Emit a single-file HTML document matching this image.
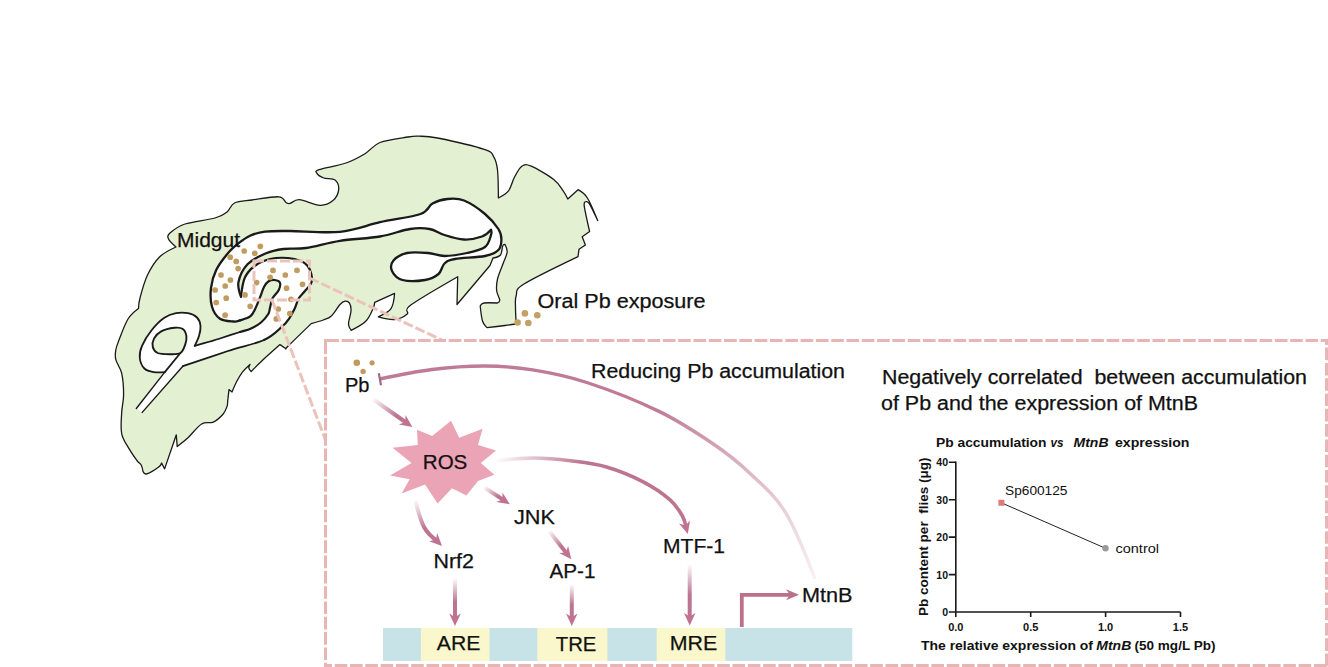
<!DOCTYPE html>
<html><head><meta charset="utf-8">
<style>
html,body{margin:0;padding:0;background:#fff;width:1328px;height:667px;overflow:hidden}
svg{display:block}
text{font-family:"Liberation Sans",sans-serif;fill:#111;white-space:pre;stroke:#111;stroke-width:0.25px}
.b{font-weight:bold} #chart text{stroke:none}
</style></head><body>
<svg width="1328" height="667" viewBox="0 0 1328 667">
<defs>
<linearGradient id="ga1" gradientUnits="userSpaceOnUse" x1="372" y1="398.5" x2="412.4" y2="427"><stop offset="0" stop-color="#bc7490" stop-opacity="0.0"/><stop offset="0.6" stop-color="#bc7490" stop-opacity="1"/></linearGradient><linearGradient id="ga2" gradientUnits="userSpaceOnUse" x1="483.6" y1="487" x2="509.8" y2="504.2"><stop offset="0" stop-color="#bc7490" stop-opacity="0.0"/><stop offset="0.55" stop-color="#bc7490" stop-opacity="1"/></linearGradient><linearGradient id="ga3" gradientUnits="userSpaceOnUse" x1="415" y1="499.6" x2="442" y2="546"><stop offset="0" stop-color="#bc7490" stop-opacity="0.0"/><stop offset="0.55" stop-color="#bc7490" stop-opacity="1"/></linearGradient><linearGradient id="ga4" gradientUnits="userSpaceOnUse" x1="548.7" y1="530.4" x2="571.3" y2="559.3"><stop offset="0" stop-color="#bc7490" stop-opacity="0.0"/><stop offset="0.55" stop-color="#bc7490" stop-opacity="1"/></linearGradient><linearGradient id="ga5" gradientUnits="userSpaceOnUse" x1="455" y1="578" x2="455" y2="626"><stop offset="0" stop-color="#bc7490" stop-opacity="0.0"/><stop offset="0.5" stop-color="#bc7490" stop-opacity="1"/></linearGradient><linearGradient id="ga6" gradientUnits="userSpaceOnUse" x1="571.8" y1="583.8" x2="571.8" y2="626"><stop offset="0" stop-color="#bc7490" stop-opacity="0.0"/><stop offset="0.5" stop-color="#bc7490" stop-opacity="1"/></linearGradient><linearGradient id="ga7" gradientUnits="userSpaceOnUse" x1="689.7" y1="564" x2="689.7" y2="625.4"><stop offset="0" stop-color="#bc7490" stop-opacity="0.0"/><stop offset="0.5" stop-color="#bc7490" stop-opacity="1"/></linearGradient><linearGradient id="ga8" gradientUnits="userSpaceOnUse" x1="494.5" y1="460.8" x2="687.8" y2="534"><stop offset="0" stop-color="#bc7490" stop-opacity="0.0"/><stop offset="0.4" stop-color="#bc7490" stop-opacity="1"/></linearGradient><linearGradient id="ginh" gradientUnits="userSpaceOnUse" x1="815" y1="580" x2="600" y2="385"><stop offset="0" stop-color="#bc7490" stop-opacity="0.1"/><stop offset="0.5" stop-color="#bc7490" stop-opacity="0.6"/><stop offset="0.8" stop-color="#bc7490" stop-opacity="0.95"/></linearGradient>
</defs>
<rect width="1328" height="667" fill="#fff"/>
<g id="fly">
<path d="M168.5,239 C167.5,236.7 167.2,235.5 170,233 C172.8,230.5 177.5,226.5 185,224 C192.5,221.5 208,220 215,218 C222,216 223.8,214.5 227,212 C230.2,209.5 230.3,205 234.5,203 C238.7,201 244.6,201 252,200 C259.4,199 273,196.4 278.7,196.8 C284.4,197.2 284.1,201.4 286,202.5 C287.9,203.6 287.8,203.9 290,203.4 C292.2,202.9 294.4,199.4 299.4,199.7 C304.4,200 314.4,205.2 320,205.3 C325.6,205.5 329.9,203.2 333,200.6 C336.1,197.9 338.4,192.8 338.7,189.4 C339,186 337.5,181.9 335,180 C332.5,178.1 326.7,179.1 323.7,178 C320.7,176.9 317.8,174.8 317,173.4 C316.2,172 314.2,171.4 319,169.7 C323.8,168 338.3,165.7 346,163 C353.7,160.3 359.3,157.1 365,153.7 C370.7,150.3 372.8,145.3 380,142.5 C387.2,139.7 401.6,138.1 408,137 C414.4,135.9 413.8,136 418.7,136.2 C423.6,136.4 426.6,135.8 437.5,138 C448.4,140.2 474.9,146.2 484.3,149.4 C493.7,152.6 491.5,153.5 493.7,156.9 C495.9,160.3 496.7,163.2 497.5,170 C498.3,176.8 498.4,198 498.4,198 C498.4,198 506.1,194 508.7,190.6 C511.3,187.2 512.1,181.6 514.3,177.5 C516.5,173.4 519,168.1 521.8,166.2 C524.6,164.3 525.9,164 531.2,166.2 C536.5,168.4 548.4,175.3 553.7,179.4 C559,183.5 560.6,187.3 563,190.6 C565.4,193.9 567.8,199 567.8,199 C567.8,199 578,189.7 578,189.7 C578,189.7 584.1,192.8 587.4,198 C590.7,203.2 597.7,220.6 597.7,220.6 C597.7,220.6 591.3,206.8 589.3,203.7 C587.3,200.6 585.6,201.8 585.6,201.8 C585.6,201.8 583.6,201.4 584.3,206.3 C585,211.2 589.6,231.5 589.6,231.5 C589.6,231.5 582.2,236.7 582.2,236.7 C582.2,236.7 585.4,245 585.4,245 C585.4,245 579,249.3 579,249.3 C579,249.3 578,256.6 578,256.6 C578,256.6 534.3,277.5 524,284 C513.7,290.5 517.6,291.6 516.2,295.5 C514.8,299.4 515.5,302.8 515.5,307.5 C515.5,312.2 516.2,324 516.2,324 C516.2,324 509.9,324.9 505,325.5 C500.1,326.1 487,327.7 487,327.7 C487,327.7 483.6,324.6 482.5,321 C481.4,317.4 480.2,306 480.2,306 C480.2,306 481.1,303.5 484,303 C486.9,302.5 497.5,303 497.5,303 C497.5,303 499.8,302 499.7,300 C499.6,298 497.1,294.5 496.7,291 C496.3,287.5 496.4,283.8 497.5,279 C498.6,274.2 501.9,267 503.5,262.5 C505.1,258 506.9,255 507.2,252 C507.4,249 505,244.5 505,244.5 C505,244.5 503.4,244.2 502.7,246 C501.9,247.8 502.1,253 500.5,255 C498.9,257 493,258 493,258 C493,258 490,265.5 490,265.5 C490,265.5 457,304.5 457,304.5 C457,304.5 457.7,276.7 457.7,276.7 C457.7,276.7 419.2,298.8 410.8,305 C402.4,311.2 409.9,311.6 407.2,314 C404.5,316.4 399.4,319 394.6,319.5 C389.8,320 378.3,316.8 378.3,316.8 C378.3,316.8 388.3,312.6 391,308.7 C393.7,304.8 394.6,293.3 394.6,293.3 C394.6,293.3 374.7,302.4 374.7,302.4 C374.7,302.4 374.5,305.5 373,308.7 C371.5,311.9 369.3,317.7 365.7,321.3 C362.1,324.9 351.2,330.4 351.2,330.4 C351.2,330.4 348.5,327.2 348.5,324 C348.5,320.8 350.8,314.5 351,311 C351.2,307.5 350.5,304.8 349.5,303.2 C348.5,301.6 346.6,301 345,301.2 C343.4,301.4 342.3,302 340,304.5 C337.7,307 334.1,313.4 331.3,316 C328.5,318.6 326.6,318.7 323.2,320 C319.8,321.3 311.2,323.6 311.2,323.6 C311.2,323.6 292.6,341.6 288.4,345.8 C284.2,350 286,348.8 286,348.8 C286,348.8 280,344.6 280,344.6 C280,344.6 266.8,356.3 262,360.8 C257.2,365.3 251.2,371.6 251.2,371.6 C251.2,371.6 249,369.2 248.8,368 C248.6,366.8 250,364.4 250,364.4 C250,364.4 245,368.8 242.8,371.6 C240.6,374.4 238.6,377.8 236.8,381.2 C235,384.6 232,392 232,392 C232,392 229,389.6 229,389.6 C229,389.6 228.1,397.2 227.8,400 C227.5,402.8 227.8,404.1 227,406.5 C226.2,408.9 225.3,411.7 223,414.3 C220.7,416.9 216.9,420.5 213.3,422.1 C209.7,423.7 205.8,421.4 201.6,424 C197.4,426.6 192.1,433.9 188,437.7 C183.9,441.4 177.2,446.5 177.2,446.5 C177.2,446.5 176.3,434.8 176.3,434.8 C176.3,434.8 164.6,468.9 164.6,468.9 C164.6,468.9 161.6,463 161.6,463 C161.6,463 161.1,465.2 158.7,467 C156.3,468.8 149.6,473 147,473.8 C144.4,474.6 143.1,471.8 143.1,471.8 C143.1,471.8 142.2,466.8 141.2,465 C140.2,463.2 139.2,463.6 137.3,461 C135.4,458.4 132.1,453.9 129.5,449.4 C126.9,444.9 123,440 121.7,433.8 C120.4,427.6 121.4,418.9 121.7,412.4 C122,405.9 123.6,401.3 123.6,394.8 C123.6,388.3 123,379.2 121.7,373.4 C120.4,367.5 116.8,363.6 115.8,359.7 C114.8,355.8 115.3,353.3 115.8,350 C116.3,346.7 117,345.2 119,340 C121,334.8 124.8,324.2 128,319 C131.2,313.8 138.5,308.5 138.5,308.5 C138.5,308.5 138.5,303.6 140,298 C141.5,292.4 144.2,281.8 147.5,275 C150.8,268.2 154.8,261.7 159.5,257 C164.2,252.3 176,247 176,247 C176,247 169.5,241.3 168.5,239 Z" fill="#e4f0d2" stroke="#1a1a1a" stroke-width="1.3" stroke-linejoin="round"/>
<path d="M142.2,412.4 C142.2,412.4 182.8,366.2 182.8,366.2 C182.8,366.2 214.5,355.4 228,351 C241.5,346.6 255,344.1 264,340 C273,335.9 277.8,330.3 282,326.7 C286.2,323.1 287.2,321.3 289.3,318.3 C291.4,315.3 293,312.1 294.6,308.8 C296.2,305.5 297.1,301.3 298.8,298.3 C300.5,295.3 302.9,293.6 305,291 C307.1,288.4 310.3,285.4 311.4,282.6 C312.4,279.8 311.9,276.8 311.3,274 C310.7,271.2 309.4,268.1 307.7,266 C306,263.9 304.7,262.5 301.4,261.2 C298.1,259.9 293.2,258.4 288,258 C282.8,257.6 275.6,257.7 270,259 C264.4,260.3 258.9,262.9 254.7,266 C250.5,269.1 247.1,272.7 244.8,277.8 C242.5,282.9 241,296.7 241,296.7 C241,296.7 237.4,287.4 238.5,282 C239.6,276.6 243,269.1 247.5,264.3 C252,259.6 259.5,256.1 265.5,253.5 C271.5,250.9 276.8,249.9 283.5,249 C290.2,248.1 296.6,249.4 306,248 C315.4,246.6 327.7,242.7 340,240.8 C352.3,238.9 368.3,238.5 380,236.5 C391.7,234.5 401.8,230.2 410,229 C418.2,227.8 423.8,228 429.5,229 C435.2,230 438.8,233.2 444.5,235 C450.2,236.8 457.8,239.2 464,239.5 C470.2,239.8 477.5,238.1 482,236.5 C486.5,234.9 491,229.7 491,229.7 C491,229.7 492,232.1 491,235 C490,237.9 489,244 485,247 C481,250 473.8,251.5 467,253 C460.2,254.5 451,256 444.5,256 C438,256 434.2,253.5 428,253 C421.8,252.5 412.8,251.8 407,253 C401.2,254.2 396,257.5 393.5,260.5 C391,263.5 390.5,267.8 392,271 C393.5,274.2 397,278.5 402.5,280 C408,281.5 419,281 425,280 C431,279 435.2,276.8 438.5,274 C441.8,271.2 441.8,266 444.5,263.5 C447.2,261 448.2,260.2 455,259 C461.8,257.8 477.8,257.5 485,256 C492.2,254.5 495.7,252.8 498.4,250 C501.1,247.2 501.4,243 501.4,239.5 C501.4,236 501.1,233.2 498.4,229 C495.7,224.8 490.7,218.8 485,214 C479.3,209.2 470.2,203 464,200.5 C457.8,198 452.8,198.5 447.5,199 C442.2,199.5 437,201 432.5,203.5 C428,206 429.2,210.9 420.5,214 C411.8,217.1 393.4,219.2 380,222.2 C366.6,225.2 355,230.3 340,231.8 C325,233.3 302.5,231 290,231 C277.5,231 271.7,230.8 265,231.6 C258.3,232.4 254.4,233.8 250,235.7 C245.6,237.6 242.4,240.2 238.7,243.2 C234.9,246.2 231.2,249.2 227.5,253.7 C223.8,258.2 218.9,264.3 216.2,270 C213.4,275.7 211.7,281.9 211,288 C210.3,294.1 210.5,301.6 212,306.7 C213.5,311.8 216.4,316.3 220,318.8 C223.6,321.3 230.4,321.2 233.7,321.5 C237,321.8 237.2,321.3 240,320.4 C242.8,319.5 247.9,318.3 250.5,316.2 C253.1,314.1 254.1,310.9 255.7,307.8 C257.3,304.7 258.6,300.8 260,297.3 C261.4,293.8 262.7,289.4 264.1,286.8 C265.5,284.2 266.6,282.6 268.3,281.5 C270.1,280.4 272.7,279.8 274.6,280 C276.5,280.2 279.2,280.9 279.9,282.6 C280.6,284.3 280,287.4 278.8,290 C277.6,292.6 274,295.3 272.5,298.3 C271,301.3 270.7,305.2 270,307.8 C269.3,310.4 269.8,311.6 268.3,314 C266.8,316.4 264,320 261,322.5 C258,325 254,327.2 250.5,328.8 C247,330.4 245.1,330.4 240,332 C234.9,333.6 225,336.9 220,338.5 C215,340.1 214.2,340.3 210,341.5 C205.8,342.7 194.7,345.8 194.7,345.8 C194.7,345.8 198,339.3 199,336 C200,332.7 200.8,329.1 200.5,326 C200.2,322.9 199.1,319.6 197,317.5 C194.9,315.4 191.5,313.9 188,313.2 C184.5,312.5 180,312.4 176,313.2 C172,314 168.1,315.2 164,318 C159.9,320.8 155.3,325.6 151.6,330.2 C147.9,334.8 144,341.2 142,345.8 C140,350.4 139.4,354.2 139.8,358 C140.2,361.8 142,366.1 144.4,368.5 C146.8,370.9 150.6,371.5 154,372.1 C157.4,372.7 164.8,372.1 164.8,372.1 C164.8,372.1 136.3,408.5 136.3,408.5" fill="#ffffff" stroke="none"/>
<path d="M142.2,412.4 C142.2,412.4 182.8,366.2 182.8,366.2" fill="none" stroke="#1a1a1a" stroke-width="1.4" stroke-linejoin="round" stroke-linecap="round"/><path d="M182.8,366.2 C182.8,366.2 214.5,355.4 228,351 C241.5,346.6 255,344.1 264,340" fill="none" stroke="#1a1a1a" stroke-width="1.8" stroke-linejoin="round" stroke-linecap="round"/><path d="M264,340 C273,335.9 277.8,330.3 282,326.7 C286.2,323.1 287.2,321.3 289.3,318.3 C291.4,315.3 293,312.1 294.6,308.8 C296.2,305.5 297.1,301.3 298.8,298.3 C300.5,295.3 302.9,293.6 305,291 C307.1,288.4 310.3,285.4 311.4,282.6 C312.4,279.8 311.9,276.8 311.3,274 C310.7,271.2 309.4,268.1 307.7,266 C306,263.9 304.7,262.5 301.4,261.2 C298.1,259.9 293.2,258.4 288,258 C282.8,257.6 275.6,257.7 270,259 C264.4,260.3 258.9,262.9 254.7,266 C250.5,269.1 247.1,272.7 244.8,277.8 C242.5,282.9 241,296.7 241,296.7" fill="none" stroke="#1a1a1a" stroke-width="2.2" stroke-linejoin="round" stroke-linecap="round"/><path d="M241,296.7 C241,296.7 237.4,287.4 238.5,282 C239.6,276.6 243,269.1 247.5,264.3 C252,259.6 259.5,256.1 265.5,253.5 C271.5,250.9 276.8,249.9 283.5,249 C290.2,248.1 296.6,249.4 306,248 C315.4,246.6 327.7,242.7 340,240.8 C352.3,238.9 368.3,238.5 380,236.5 C391.7,234.5 401.8,230.2 410,229 C418.2,227.8 423.8,228 429.5,229 C435.2,230 438.8,233.2 444.5,235 C450.2,236.8 457.8,239.2 464,239.5 C470.2,239.8 477.5,238.1 482,236.5 C486.5,234.9 491,229.7 491,229.7 C491,229.7 492,232.1 491,235 C490,237.9 489,244 485,247 C481,250 473.8,251.5 467,253 C460.2,254.5 451,256 444.5,256 C438,256 434.2,253.5 428,253 C421.8,252.5 412.8,251.8 407,253 C401.2,254.2 396,257.5 393.5,260.5 C391,263.5 390.5,267.8 392,271 C393.5,274.2 397,278.5 402.5,280 C408,281.5 419,281 425,280 C431,279 435.2,276.8 438.5,274 C441.8,271.2 441.8,266 444.5,263.5 C447.2,261 448.2,260.2 455,259 C461.8,257.8 477.8,257.5 485,256 C492.2,254.5 495.7,252.8 498.4,250 C501.1,247.2 501.4,243 501.4,239.5 C501.4,236 501.1,233.2 498.4,229 C495.7,224.8 490.7,218.8 485,214 C479.3,209.2 470.2,203 464,200.5 C457.8,198 452.8,198.5 447.5,199 C442.2,199.5 437,201 432.5,203.5 C428,206 429.2,210.9 420.5,214 C411.8,217.1 393.4,219.2 380,222.2 C366.6,225.2 355,230.3 340,231.8 C325,233.3 302.5,231 290,231 C277.5,231 271.7,230.8 265,231.6 C258.3,232.4 254.4,233.8 250,235.7 C245.6,237.6 242.4,240.2 238.7,243.2 C234.9,246.2 231.2,249.2 227.5,253.7 C223.8,258.2 218.9,264.3 216.2,270 C213.4,275.7 211.7,281.9 211,288 C210.3,294.1 210.5,301.6 212,306.7 C213.5,311.8 216.4,316.3 220,318.8 C223.6,321.3 230.4,321.2 233.7,321.5 C237,321.8 237.2,321.3 240,320.4" fill="none" stroke="#1a1a1a" stroke-width="2.3" stroke-linejoin="round" stroke-linecap="round"/><path d="M240,320.4 C242.8,319.5 247.9,318.3 250.5,316.2 C253.1,314.1 254.1,310.9 255.7,307.8 C257.3,304.7 258.6,300.8 260,297.3 C261.4,293.8 262.7,289.4 264.1,286.8 C265.5,284.2 266.6,282.6 268.3,281.5 C270.1,280.4 272.7,279.8 274.6,280 C276.5,280.2 279.2,280.9 279.9,282.6 C280.6,284.3 280,287.4 278.8,290 C277.6,292.6 274,295.3 272.5,298.3 C271,301.3 270.7,305.2 270,307.8 C269.3,310.4 269.8,311.6 268.3,314 C266.8,316.4 264,320 261,322.5 C258,325 254,327.2 250.5,328.8 C247,330.4 245.1,330.4 240,332" fill="none" stroke="#1a1a1a" stroke-width="2.2" stroke-linejoin="round" stroke-linecap="round"/><path d="M240,332 C234.9,333.6 225,336.9 220,338.5 C215,340.1 214.2,340.3 210,341.5 C205.8,342.7 194.7,345.8 194.7,345.8" fill="none" stroke="#1a1a1a" stroke-width="1.8" stroke-linejoin="round" stroke-linecap="round"/><path d="M194.7,345.8 C194.7,345.8 198,339.3 199,336 C200,332.7 200.8,329.1 200.5,326 C200.2,322.9 199.1,319.6 197,317.5 C194.9,315.4 191.5,313.9 188,313.2 C184.5,312.5 180,312.4 176,313.2 C172,314 168.1,315.2 164,318 C159.9,320.8 155.3,325.6 151.6,330.2 C147.9,334.8 144,341.2 142,345.8 C140,350.4 139.4,354.2 139.8,358 C140.2,361.8 142,366.1 144.4,368.5 C146.8,370.9 150.6,371.5 154,372.1 C157.4,372.7 164.8,372.1 164.8,372.1" fill="none" stroke="#1a1a1a" stroke-width="1.8" stroke-linejoin="round" stroke-linecap="round"/><path d="M164.8,372.1 C164.8,372.1 136.3,408.5 136.3,408.5" fill="none" stroke="#1a1a1a" stroke-width="1.4" stroke-linejoin="round" stroke-linecap="round"/>
<path d="M164.8,372.1 L180.4,353" stroke="#1a1a1a" stroke-width="1.8" fill="none"/>
<path d="M154,338.6 C155.4,336 157.8,333.2 161.2,331.4 C164.6,329.6 170.8,328.2 174.4,327.8 C178,327.4 180.8,327.6 182.8,329 C184.8,330.4 186,333.6 186.4,336.2 C186.8,338.8 186.2,341.8 185.2,344.6 C184.2,347.4 183,351.4 180.4,353 C177.8,354.6 173.4,354.2 169.6,354.2 C165.8,354.2 160.4,354.2 157.6,353 C154.8,351.8 153.4,349.4 152.8,347 C152.2,344.6 152.6,341.2 154,338.6 Z" fill="#e4f0d2" stroke="#1a1a1a" stroke-width="1.9"/>
<g fill="#c19c60"><circle cx="260.3" cy="246.3" r="2.85"/><circle cx="244.2" cy="251" r="2.85"/><circle cx="254.8" cy="253.4" r="2.85"/><circle cx="230.2" cy="257.2" r="2.85"/><circle cx="236.2" cy="261.4" r="2.85"/><circle cx="238.1" cy="268.6" r="2.85"/><circle cx="221" cy="275" r="2.85"/><circle cx="230.4" cy="280" r="2.85"/><circle cx="225.2" cy="286" r="2.85"/><circle cx="215.1" cy="290" r="2.85"/><circle cx="226.2" cy="298.2" r="2.85"/><circle cx="216.2" cy="302.5" r="2.85"/><circle cx="225.1" cy="315.2" r="2.85"/><circle cx="250.2" cy="306.3" r="2.85"/><circle cx="245" cy="294.9" r="2.85"/><circle cx="256.6" cy="282.6" r="2.85"/><circle cx="270.1" cy="277.3" r="2.85"/><circle cx="273" cy="270.4" r="2.85"/><circle cx="285.3" cy="275" r="2.85"/><circle cx="297" cy="270.3" r="2.85"/><circle cx="302.5" cy="284.3" r="2.85"/><circle cx="286.5" cy="288.2" r="2.85"/><circle cx="291" cy="299.3" r="2.85"/><circle cx="278.3" cy="309" r="2.85"/><circle cx="289.8" cy="313.5" r="2.85"/><circle cx="276.3" cy="318.9" r="2.85"/></g>
<g fill="#c3a064"><circle cx="524.9" cy="313.4" r="3.3"/><circle cx="537.3" cy="315.2" r="3.3"/><circle cx="517.6" cy="322.5" r="3.3"/><circle cx="528.3" cy="323" r="3.3"/></g>
</g>
<text x="177" y="246.5" font-size="20" textLength="63" lengthAdjust="spacingAndGlyphs">Midgut</text>
<text x="537.5" y="308" font-size="20" textLength="168" lengthAdjust="spacingAndGlyphs">Oral Pb exposure</text>

<!-- small dashed box + connectors -->
<g fill="none" stroke="#eac3bb" stroke-width="3" stroke-dasharray="10,3">
<rect x="254" y="261" width="55.5" height="39"/>
<path d="M309.5,278 L442,340"/>
<path d="M272,300 L325.5,440"/>
</g>
<g fill="none" stroke="#e8b4b4" stroke-width="3" stroke-dasharray="12.6,2.7">
<path d="M324,340.5 H326.3" stroke-dasharray="none"/>
<path d="M326.3,340.5 H1328"/>
<path d="M325.5,341.4 V667"/>
<path d="M1326.5,340.5 V667" stroke-dashoffset="8.2"/>
<path d="M324,665.5 H1328" stroke-dashoffset="4.6"/>
</g>

<!-- pathway -->
<g fill="#c19a5e"><circle cx="356.8" cy="362.8" r="3.3"/><circle cx="372.1" cy="362.8" r="2.6"/><circle cx="363.1" cy="371.4" r="2.7"/></g>
<text x="345" y="392" font-size="20">Pb</text>
<path d="M815,579 C815,579 796.5,530.3 785.6,512.6 C774.7,494.9 761.5,484.3 749.5,472.9 C737.5,461.5 728.4,454.2 713.3,444 C698.2,433.8 680.1,421.6 659,411.4 C637.9,401.1 607.9,389.4 586.8,382.5 C565.7,375.6 549.6,372.6 532.6,369.9 C515.6,367.1 501.8,366.1 485,366 C468.2,365.9 449.6,367.3 432,369.5 C414.4,371.7 379.5,379 379.5,379" fill="none" stroke="url(#ginh)" stroke-width="3.4"/><path d="M378.8,373.3 L381,385.3" stroke="#9a6e84" stroke-width="2.2"/>
<text x="591" y="378" font-size="20" textLength="254" lengthAdjust="spacingAndGlyphs">Reducing Pb accumulation</text>
<path d="M451,420.7 L459.2,437.8 L482.6,428.8 L478,445 L496,450.4 L480.8,463 L494.3,474.7 L478,481 L466.4,495.4 L452,488.2 L437.6,503.5 L425,484.6 L401.6,493.6 L409.7,479.2 L390,475.6 L411.5,463 L392.6,447.7 L417.8,445 L417,429.7 L432.2,436 Z" fill="#eba3b6"/>
<text x="422.8" y="469.4" font-size="20.4" textLength="44.5" lengthAdjust="spacingAndGlyphs">ROS</text>
<path d="M372,398.5 L406.8,423" fill="none" stroke="url(#ga1)" stroke-width="4.0" stroke-linecap="butt"/><path d="M412.4,427 L398.9,424.5 L405.3,422 L405.5,415.1 Z" fill="#c27291"/><path d="M483.6,487 L504.1,500.4" fill="none" stroke="url(#ga2)" stroke-width="4.0" stroke-linecap="butt"/><path d="M509.8,504.2 L496.2,502.1 L502.5,499.4 L502.5,492.5 Z" fill="#c27291"/><path d="M415,499.6 C415,499.6 420.3,520.1 424,527 C427.7,533.9 437.1,541.1 437.1,541.1" fill="none" stroke="url(#ga3)" stroke-width="4.0" stroke-linecap="butt"/><path d="M442,546 L429.1,541.2 L435.8,539.8 L437.2,533.1 Z" fill="#c27291"/><path d="M548.7,530.4 L567.1,553.9" fill="none" stroke="url(#ga4)" stroke-width="4.0" stroke-linecap="butt"/><path d="M571.3,559.3 L559.1,553 L565.9,552.4 L568.1,545.9 Z" fill="#c27291"/><path d="M455,578 L455,619.1" fill="none" stroke="url(#ga5)" stroke-width="4.0" stroke-linecap="butt"/><path d="M455,626 L449.2,613.5 L455,617.2 L460.8,613.5 Z" fill="#c27291"/><path d="M571.8,583.8 L571.8,619.1" fill="none" stroke="url(#ga6)" stroke-width="4.0" stroke-linecap="butt"/><path d="M571.8,626 L566,613.5 L571.8,617.2 L577.5,613.5 Z" fill="#c27291"/><path d="M689.7,564 L689.7,618.5" fill="none" stroke="url(#ga7)" stroke-width="4.0" stroke-linecap="butt"/><path d="M689.7,625.4 L684,612.9 L689.7,616.6 L695.5,612.9 Z" fill="#c27291"/><path d="M494.5,460.8 C494.5,460.8 521.6,458 534.2,458 C546.9,458 558.4,459.3 570.4,460.8 C582.4,462.3 594.5,463.5 606.5,467 C618.5,470.5 632.2,476.2 642.7,481.6 C653.2,487 663.2,493.9 669.8,499.6 C676.4,505.3 679.7,511.4 682.4,516 C685.1,520.6 686,527.4 686,527.4" fill="none" stroke="url(#ga8)" stroke-width="3.6" stroke-linecap="butt"/><path d="M687.8,534 L679,523.4 L685.5,525.6 L690.1,520.4 Z" fill="#c27291"/>
<path d="M741.8,627 L741.8,594.8 L790,594.8" fill="none" stroke="#bb7189" stroke-width="3.8"/><path d="M799,594.8 L786,600.3 L789.9,594.8 L786,589.3 Z" fill="#bb7189"/>
<text x="514" y="523.5" font-size="20" textLength="41" lengthAdjust="spacingAndGlyphs">JNK</text>
<text x="433.5" y="567.5" font-size="20" textLength="40.5" lengthAdjust="spacingAndGlyphs">Nrf2</text>
<text x="549.5" y="578.2" font-size="20" textLength="46" lengthAdjust="spacingAndGlyphs">AP-1</text>
<text x="663" y="553.3" font-size="20" textLength="62" lengthAdjust="spacingAndGlyphs">MTF-1</text>
<text x="802" y="602.2" font-size="20" textLength="50.5" lengthAdjust="spacingAndGlyphs">MtnB</text>

<!-- gene bar -->
<rect x="383" y="628" width="469.3" height="33" fill="#c7e3e7"/>
<rect x="420.9" y="628" width="68.7" height="33" fill="#f9f7cb"/>
<rect x="537.3" y="628" width="70.1" height="33" fill="#f9f7cb"/>
<rect x="656.7" y="628" width="68.7" height="33" fill="#f9f7cb"/>
<text x="436.8" y="650.3" font-size="20.5" textLength="43.5" lengthAdjust="spacingAndGlyphs">ARE</text>
<text x="555.8" y="650.6" font-size="20.5" textLength="40.5" lengthAdjust="spacingAndGlyphs">TRE</text>
<text x="669.8" y="650.1" font-size="20.5" textLength="47.5" lengthAdjust="spacingAndGlyphs">MRE</text>

<text x="882" y="384.3" font-size="20" textLength="425" lengthAdjust="spacingAndGlyphs">Negatively correlated  between accumulation</text>
<text x="881" y="410.2" font-size="20" textLength="317" lengthAdjust="spacingAndGlyphs">of Pb and the expression of MtnB</text>

<!-- chart -->
<g id="chart">
<text class="b" x="936" y="447.3" font-size="13" textLength="110.5" lengthAdjust="spacingAndGlyphs">Pb accumulation</text>
<text class="b" x="1050.5" y="447.3" font-size="13" font-style="italic" textLength="13" lengthAdjust="spacingAndGlyphs">vs</text>
<text class="b" x="1073.5" y="447.3" font-size="13" font-style="italic" textLength="35" lengthAdjust="spacingAndGlyphs">MtnB</text>
<text class="b" x="1115" y="447.3" font-size="13" textLength="74.5" lengthAdjust="spacingAndGlyphs">expression</text>
<g stroke="#1a1a1a" stroke-width="1.6" fill="none">
<path d="M955.8,461.5 L955.8,612 L1180.5,612"/>
<path d="M948.8,462.3 H955.8 M948.8,499.7 H955.8 M948.8,537.1 H955.8 M948.8,574.6 H955.8 M948.8,612 H955.8"/>
<path d="M955.8,612 V617 M1030.7,612 V617 M1105.6,612 V617 M1180.5,612 V617"/>
</g>
<g font-size="10.5" class="b" text-anchor="end">
<text class="b" x="948" y="616">0</text>
<text class="b" x="948" y="578.6">10</text>
<text class="b" x="948" y="541.1">20</text>
<text class="b" x="948" y="503.7">30</text>
<text class="b" x="948" y="466.3">40</text>
</g>
<g font-size="11" text-anchor="middle">
<text class="b" x="955.8" y="631">0.0</text>
<text class="b" x="1030.7" y="631">0.5</text>
<text class="b" x="1105.6" y="631">1.0</text>
<text class="b" x="1180.5" y="631">1.5</text>
</g>
<text class="b" x="921" y="650" font-size="13.5" textLength="172" lengthAdjust="spacingAndGlyphs">The relative expression of</text>
<text class="b" x="1096.3" y="650" font-size="13.5" font-style="italic" textLength="35" lengthAdjust="spacingAndGlyphs">MtnB</text>
<text class="b" x="1134.5" y="650" font-size="13.5" textLength="81" lengthAdjust="spacingAndGlyphs">(50 mg/L Pb)</text>
<text class="b" transform="translate(927.8,616) rotate(-90)" x="0" y="0" font-size="12.5" textLength="158.5" lengthAdjust="spacingAndGlyphs">Pb content per  flies (μg)</text>
<path d="M1001.4,502.8 L1105.5,548.3" stroke="#222" stroke-width="1"/>
<rect x="998.4" y="499.8" width="6" height="6" fill="#e07a7a"/>
<circle cx="1105.5" cy="548.3" r="3.2" fill="#9a9a9a"/>
<text x="1005" y="495.4" font-size="12" textLength="62.5" lengthAdjust="spacingAndGlyphs">Sp600125</text>
<text x="1115.5" y="552.5" font-size="12" textLength="43.5" lengthAdjust="spacingAndGlyphs">control</text>
</g>
</svg>
</body></html>
